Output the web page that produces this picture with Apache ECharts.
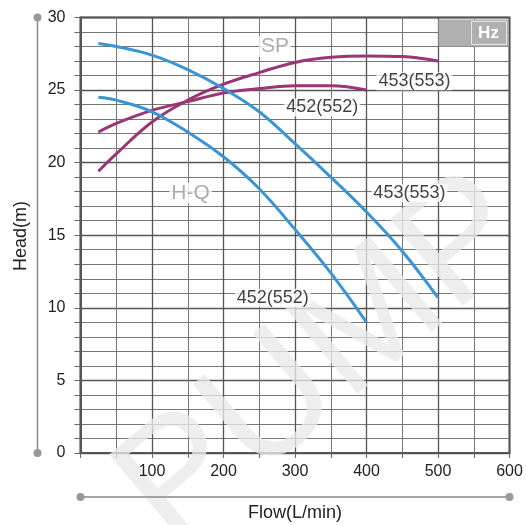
<!DOCTYPE html>
<html><head><meta charset="utf-8">
<script src="https://cdn.jsdelivr.net/npm/echarts@6/dist/echarts.min.js"></script>
<style>html,body{margin:0;padding:0;background:#fff}#c{width:526px;height:525px}</style>
</head><body><div id="c"></div>
<script>
// Flow (L/min) sample points and head (m) values
const hq453X = [25, 50, 100, 150, 200, 250, 300, 350, 400, 450, 500];
const hq453Y = [28.2, 28.0, 27.4, 26.4, 25.1, 23.5, 21.3, 19.0, 16.6, 13.9, 10.7];
const hq452X = [25, 50, 100, 150, 200, 250, 300, 350, 400];
const hq452Y = [24.5, 24.3, 23.5, 22.1, 20.4, 18.2, 15.4, 12.4, 9.0];
const sp453X = [25, 50, 100, 150, 200, 250, 300, 350, 400, 450, 500];
const sp453Y = [19.4, 20.6, 22.8, 24.3, 25.4, 26.2, 26.9, 27.25, 27.35, 27.3, 27.0];
const sp452X = [25, 50, 100, 150, 200, 250, 300, 350, 400];
const sp452Y = [22.1, 22.7, 23.6, 24.2, 24.8, 25.1, 25.3, 25.3, 25.0];
// curve labels
const curveLabelText = ['453(553)', '452(552)', '453(553)', '452(552)'];
const curveLabelX = [467, 338, 460, 269];
const curveLabelY = [25.6, 23.8, 17.9, 10.7];
const groupLabelText = ['SP', 'H-Q'];
const groupLabelX = [272, 154];
const groupLabelY = [28.0, 17.9];
const xTickLabels = ['', '100', '200', '300', '400', '500', '600'];

const zip = (xs, ys) => xs.map((x, i) => [x, ys[i]]);
const BLUE = '#3a95d5', PURPLE = '#9a3676';
const FONT = 'Liberation Sans, Arial, sans-serif';

const chart = echarts.init(document.getElementById('c'));
const lineSeries = (data, color) => ({
  type: 'line', data, smooth: 0.4, showSymbol: false, symbol: 'none',
  lineStyle: { color, width: 3 }, z: 3, silent: true
});
const xLabelStyle = { formatter: v => xTickLabels[Math.round(v / 100)] || '', color: '#222', fontSize: 16, fontFamily: FONT, margin: 11 };
chart.setOption({
  animation: false,
  backgroundColor: '#fff',
  grid: { left: 80.5, right: 16.5, top: 17.4, bottom: 72, show: true, borderColor: '#555', borderWidth: 2, backgroundColor: 'transparent' },
  xAxis: [{
    type: 'value', min: 0, max: 600, interval: 100, position: 'bottom',
    axisLine: { show: true, lineStyle: { color: '#555', width: 2 } },
    axisTick: { show: true, length: 5, lineStyle: { color: '#666' } },
    minorTick: { show: true, splitNumber: 2, length: 5, lineStyle: { color: '#666' } },
    splitLine: { show: true, lineStyle: { color: '#555', width: 1.3 } },
    minorSplitLine: { show: true, lineStyle: { color: '#777', width: 1 } },
    axisLabel: { show: false }
  }, {
    type: 'value', min: 0, max: 600, interval: 100, position: 'bottom', offset: 0, z: 6,
    axisLine: { show: false }, axisTick: { show: false }, splitLine: { show: false },
    axisLabel: xLabelStyle
  }],
  yAxis: {
    type: 'value', min: 0, max: 30, interval: 5,
    axisLine: { show: true, lineStyle: { color: '#555', width: 2 } },
    axisTick: { show: true, length: 6, lineStyle: { color: '#666' } },
    minorTick: { show: true, splitNumber: 5, length: 6, lineStyle: { color: '#666' } },
    splitLine: { show: true, lineStyle: { color: '#555', width: 1.3 } },
    minorSplitLine: { show: true, lineStyle: { color: '#777', width: 1 } },
    axisLabel: { color: '#222', fontSize: 16, fontFamily: FONT, margin: 15 }
  },
  series: [
    lineSeries(zip(sp453X, sp453Y), PURPLE),
    lineSeries(zip(sp452X, sp452Y), PURPLE),
    lineSeries(zip(hq453X, hq453Y), BLUE),
    lineSeries(zip(hq452X, hq452Y), BLUE),
    {
      type: 'scatter', symbolSize: 0, z: 5, silent: true,
      data: curveLabelText.map((t, i) => ({ value: [curveLabelX[i], curveLabelY[i]], name: t })),
      label: { show: true, position: 'inside', formatter: p => p.name, color: '#111', fontSize: 18, fontFamily: FONT, backgroundColor: '#fff', padding: [0, 2] }
    },
    {
      type: 'scatter', symbolSize: 0, z: 5, silent: true,
      data: groupLabelText.map((t, i) => ({ value: [groupLabelX[i], groupLabelY[i]], name: t })),
      label: { show: true, position: 'inside', formatter: p => p.name, color: '#999', fontSize: 21, fontFamily: FONT, backgroundColor: '#fff', padding: [0, 2] }
    }
  ]
});

// decorative elements placed relative to the grid
const p0 = chart.convertToPixel({ gridIndex: 0 }, [0, 0]);
const p1 = chart.convertToPixel({ gridIndex: 0 }, [600, 30]);
const gx0 = p0[0], gy0 = p0[1], gx1 = p1[0], gy1 = p1[1];
const axisLineX = gx0 - 43, axisLineY = gy0 + 44;
chart.setOption({
  graphic: [
    { type: 'text', x: 325, y: 362, rotation: 40 * Math.PI / 180, style: { text: 'PUMP', font: '165px ' + FONT, fill: 'rgba(233,233,233,0.78)', align: 'center', verticalAlign: 'middle' }, z: 1, silent: true },
    { type: 'line', shape: { x1: axisLineX, y1: gy1, x2: axisLineX, y2: gy0 }, style: { stroke: '#888', lineWidth: 1.5 }, z: 6 },
    { type: 'circle', shape: { cx: axisLineX, cy: gy1, r: 4 }, style: { fill: '#999' }, z: 6 },
    { type: 'circle', shape: { cx: axisLineX, cy: gy0, r: 4 }, style: { fill: '#999' }, z: 6 },
    { type: 'line', shape: { x1: gx0, y1: axisLineY, x2: gx1, y2: axisLineY }, style: { stroke: '#888', lineWidth: 1.5 }, z: 6 },
    { type: 'circle', shape: { cx: gx0, cy: axisLineY, r: 4 }, style: { fill: '#999' }, z: 6 },
    { type: 'circle', shape: { cx: gx1, cy: axisLineY, r: 4 }, style: { fill: '#999' }, z: 6 },
    { type: 'text', x: (gx0 + gx1) / 2, y: axisLineY + 16, style: { text: 'Flow(L/min)', font: '18px ' + FONT, fill: '#222', align: 'center', verticalAlign: 'middle' }, z: 6 },
    { type: 'text', x: 21, y: 236, rotation: Math.PI / 2, style: { text: 'Head(m)', font: '18px ' + FONT, fill: '#222', align: 'center', verticalAlign: 'middle' }, z: 6 },
    { type: 'rect', shape: { x: gx1 - 71, y: gy1 + 2, width: 70, height: 27 }, style: { fill: '#b0b0b0' }, z: 10 },
    { type: 'rect', shape: { x: gx1 - 38, y: gy1 + 4, width: 35, height: 23 }, style: { fill: 'none', stroke: '#e6e6e6', lineWidth: 1 }, z: 11 },
    { type: 'text', x: gx1 - 21, y: gy1 + 16, style: { text: 'Hz', font: 'bold 17px ' + FONT, fill: '#fff', align: 'center', verticalAlign: 'middle' }, z: 11 }
  ]
});
</script></body></html>
